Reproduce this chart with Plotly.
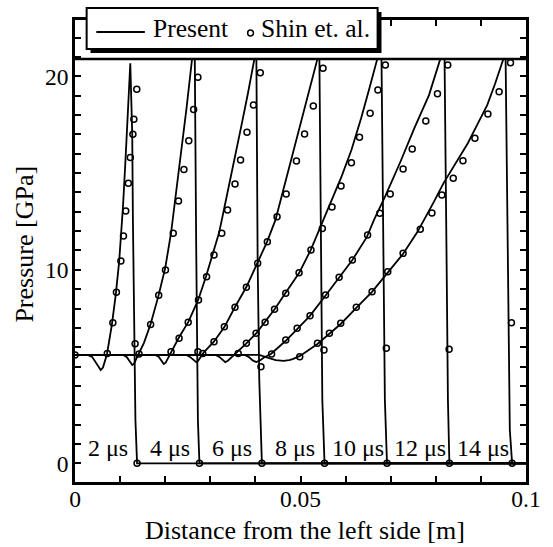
import plotly.graph_objects as go

# ---------------------------------------------------------------------------
# Pressure profiles along the bar (x in m, pressure in GPa)
# ---------------------------------------------------------------------------
times_us = [2, 4, 6, 8, 10, 12, 14]

# Present computation
present_x_2 = [0.0, 0.0028, 0.0038, 0.0048, 0.0057, 0.0062, 0.00665, 0.0071, 0.00817, 0.00903, 0.00978,
               0.01032, 0.01065, 0.0112, 0.01174, 0.01226, 0.01269, 0.01284, 0.0134, 0.01376, 0.1]
present_p_2 = [5.6, 5.6, 5.5, 5.12, 4.82, 4.95, 5.35, 5.65, 7.15, 8.7, 10.4,
               12.0, 13.3, 15.7, 18.0, 20.67, 17.0, 12.58, 2.24, 0.0, 0.0]

present_x_4 = [0.0, 0.01075, 0.0115, 0.01215, 0.01269, 0.0131, 0.01355, 0.01409, 0.01527, 0.01677,
               0.01849, 0.02, 0.02129, 0.02215, 0.02301, 0.02387, 0.02473, 0.02596, 0.02656,
               0.02688, 0.02725, 0.02759, 0.1]
present_p_4 = [5.6, 5.6, 5.48, 5.25, 5.08, 5.15, 5.42, 5.65, 6.21, 7.2,
               8.64, 10.09, 11.89, 13.44, 15.08, 16.73, 18.36, 20.9, 20.9,
               11.02, 2.24, 0.0, 0.0]

present_x_6 = [0.0, 0.01785, 0.0186, 0.0192, 0.01968, 0.0201, 0.02065, 0.02129, 0.02301, 0.02516,
               0.02731, 0.02903, 0.03054, 0.03194, 0.03301, 0.03404, 0.03548, 0.03692, 0.03834,
               0.03978, 0.04022, 0.0405, 0.04086, 0.04144, 0.1]
present_p_6 = [5.6, 5.6, 5.5, 5.26, 5.13, 5.2, 5.45, 5.77, 6.49, 7.32,
               8.44, 9.64, 10.77, 11.91, 13.09, 14.2, 15.83, 17.48, 19.11,
               20.9, 20.9, 10.39, 4.3, 0.0, 0.0]

present_x_8 = [0.0, 0.02473, 0.0255, 0.0263, 0.02688, 0.0273, 0.0279, 0.0286, 0.03075, 0.03312,
               0.03548, 0.038, 0.04043, 0.04258, 0.04445, 0.04667, 0.04903, 0.0514, 0.05376,
               0.05419, 0.05452, 0.05484, 0.05533, 0.1]
present_p_8 = [5.6, 5.6, 5.5, 5.32, 5.23, 5.3, 5.5, 5.75, 6.27, 7.04,
               8.08, 9.11, 10.35, 11.44, 12.58, 14.54, 16.63, 18.7, 20.9,
               20.9, 10.35, 3.27, 0.0, 0.0]

present_x_10 = [0.0, 0.03118, 0.032, 0.0328, 0.03333, 0.0339, 0.0348, 0.03591, 0.03806, 0.04022,
                0.04215, 0.0443, 0.04667, 0.04968, 0.05226, 0.05484, 0.05699, 0.05914, 0.06129,
                0.06344, 0.06516, 0.06703, 0.06796, 0.06839, 0.06871, 0.06918, 0.1]
present_p_10 = [5.6, 5.6, 5.5, 5.32, 5.23, 5.3, 5.5, 5.7, 6.21, 6.73,
                7.3, 7.97, 8.8, 9.83, 11.02, 12.47, 13.6, 14.84, 16.19,
                17.83, 19.28, 20.9, 20.9, 11.02, 3.27, 0.0, 0.0]

present_x_12 = [0.0, 0.03763, 0.0385, 0.0394, 0.0402, 0.041, 0.042, 0.04344, 0.04667, 0.04925,
                0.05204, 0.05548, 0.05849, 0.0615, 0.06473, 0.0663, 0.06882, 0.07204, 0.07527,
                0.07849, 0.081, 0.08194, 0.08237, 0.08269, 0.08301, 0.1]
present_p_12 = [5.6, 5.6, 5.5, 5.32, 5.23, 5.32, 5.48, 5.65, 6.32, 6.94,
                7.61, 8.65, 9.58, 10.51, 11.7, 12.58, 13.82, 15.52, 17.33,
                19.03, 20.9, 20.9, 11.02, 3.27, 0.0, 0.0]

present_x_14 = [0.0, 0.04086, 0.0425, 0.0445, 0.04624, 0.0475, 0.0484, 0.04989, 0.05376, 0.05634,
                0.05892, 0.06237, 0.06581, 0.06925, 0.07269, 0.07591, 0.07742, 0.07957, 0.08172,
                0.08452, 0.0871, 0.08925, 0.0914, 0.09312, 0.09499, 0.09548, 0.09591, 0.09641,
                0.09692, 0.1]
present_p_14 = [5.6, 5.6, 5.48, 5.33, 5.29, 5.33, 5.4, 5.55, 6.17, 6.68,
                7.2, 8.03, 8.85, 9.83, 10.81, 11.95, 12.58, 13.51, 14.48,
                15.52, 16.54, 17.53, 18.51, 19.6, 20.9, 20.9, 11.02, 1.73,
                0.0, 0.0]

# Shin et al. reference data
shin_x_2 = [0.0, 0.00716, 0.00839, 0.00918, 0.01017, 0.01075, 0.01125, 0.01183, 0.01226, 0.01284,
            0.01305, 0.0137, 0.01333, 0.01376]
shin_p_2 = [5.6, 5.68, 7.27, 8.84, 10.45, 11.75, 13.04, 14.47, 15.81, 17.0,
            17.78, 19.33, 6.18, 0.0]

shin_x_4 = [0.01419, 0.01677, 0.01856, 0.02006, 0.02178, 0.02295, 0.02415, 0.02523, 0.0263, 0.02725,
            0.02725, 0.02759]
shin_p_4 = [5.65, 7.18, 8.68, 9.99, 11.89, 13.56, 15.19, 16.67, 18.29, 19.95,
            5.77, 0.0]

shin_x_6 = [0.02129, 0.02308, 0.0251, 0.02738, 0.02918, 0.03082, 0.03254, 0.03383, 0.03548, 0.03671,
            0.03813, 0.03957, 0.04108, 0.04123, 0.04144]
shin_p_6 = [5.77, 6.46, 7.29, 8.44, 9.64, 10.77, 11.89, 13.09, 14.43, 15.67,
            17.11, 18.52, 20.19, 4.99, 0.0]

shin_x_8 = [0.02832, 0.03082, 0.03312, 0.03548, 0.038, 0.0405, 0.04265, 0.0448, 0.04682, 0.0491,
            0.0509, 0.05284, 0.05499, 0.0552, 0.05533]
shin_p_8 = [5.68, 6.28, 7.06, 8.06, 9.1, 10.34, 11.45, 12.74, 13.92, 15.62,
            17.02, 18.47, 20.41, 5.86, 0.0]

shin_x_10 = [0.03619, 0.038, 0.04015, 0.04215, 0.04424, 0.04673, 0.04968, 0.05232, 0.05484, 0.05699,
             0.05899, 0.06129, 0.06308, 0.06544, 0.06716, 0.06882, 0.06903, 0.06918]
shin_p_10 = [5.68, 6.2, 6.72, 7.29, 7.96, 8.79, 9.85, 11.02, 12.14, 13.25,
             14.33, 15.53, 16.85, 18.09, 19.29, 20.58, 5.94, 0.0]

shin_x_12 = [0.04359, 0.04673, 0.04925, 0.05211, 0.05555, 0.05856, 0.0615, 0.06488, 0.06759, 0.06989,
             0.07275, 0.07477, 0.07778, 0.08037, 0.08265, 0.08295, 0.08301]
shin_p_12 = [5.65, 6.37, 6.98, 7.63, 8.7, 9.61, 10.51, 11.8, 12.92, 13.92,
             15.21, 16.24, 17.69, 19.1, 20.58, 5.89, 0.0]

shin_x_14 = [0.04983, 0.05376, 0.05641, 0.05892, 0.06237, 0.06587, 0.06935, 0.07275, 0.07656, 0.07914,
             0.08135, 0.08387, 0.08602, 0.08867, 0.09155, 0.09404, 0.09656, 0.09677, 0.09692]
shin_p_14 = [5.51, 6.2, 6.72, 7.24, 8.06, 8.87, 9.9, 10.85, 12.09, 12.94,
             13.87, 14.73, 15.64, 16.8, 18.05, 19.2, 20.7, 7.27, 0.0]

# Upper pressure bound of the plotted window
p_top = 20.9

# Axis ticks
x_tick_vals = [i / 100 for i in range(11)]
x_tick_text = ["0", "", "", "", "", "0.05", "", "", "", "", "0.1"]
y_tick_vals = list(range(23))
y_tick_text = [str(v) if v % 10 == 0 else "" for v in y_tick_vals]

present_x = [present_x_2, present_x_4, present_x_6, present_x_8, present_x_10, present_x_12, present_x_14]
present_p = [present_p_2, present_p_4, present_p_6, present_p_8, present_p_10, present_p_12, present_p_14]
shin_x = [shin_x_2, shin_x_4, shin_x_6, shin_x_8, shin_x_10, shin_x_12, shin_x_14]
shin_p = [shin_p_2, shin_p_4, shin_p_6, shin_p_8, shin_p_10, shin_p_12, shin_p_14]

FONT = "Liberation Serif, Times New Roman, serif"
W, H = 553, 547
ML, MR, MT, MB = 75, 13, 20, 65
PW, PH = W - ML - MR, H - MT - MB


def px(x):
    """page pixel column -> paper x"""
    return (x - ML) / PW


def py(y):
    """page pixel row -> paper y"""
    return (H - MB - y) / PH


fig = go.Figure()

for xs, ps in zip(shin_x, shin_p):
    fig.add_trace(go.Scatter(
        x=xs, y=ps, mode="markers", showlegend=False,
        marker=dict(symbol="circle-open", size=6, color="black", line=dict(width=1.5)),
    ))

for xs, ps in zip(present_x, present_p):
    fig.add_trace(go.Scatter(
        x=xs, y=ps, mode="lines", showlegend=False,
        line=dict(color="black", width=1.8),
    ))

# time labels between successive shock fronts
annotations = []
prev_front = 0.0
for t, xs in zip(times_us, present_x):
    front = xs[-2]
    annotations.append(dict(
        x=(prev_front + front) / 2 + 0.0004, y=0.8, xref="x", yref="y",
        text=f"{t} μs", showarrow=False, xanchor="center", yanchor="middle",
        font=dict(family=FONT, size=24, color="black"),
    ))
    prev_front = front

# axis titles
annotations.append(dict(
    x=px(312), y=py(530), xref="paper", yref="paper", text="Distance from the left side [m]",
    showarrow=False, xanchor="center", yanchor="middle",
    font=dict(family=FONT, size=26, color="black"),
))
annotations.append(dict(
    x=px(22), y=py(244), xref="paper", yref="paper", text="Pressure [GPa]",
    showarrow=False, xanchor="center", yanchor="middle", textangle=-90,
    font=dict(family=FONT, size=26, color="black"),
))

# legend texts
annotations.append(dict(
    x=px(153), y=py(29), xref="paper", yref="paper", text="Present",
    showarrow=False, xanchor="left", yanchor="middle",
    font=dict(family=FONT, size=25.5, color="black"),
))
annotations.append(dict(
    x=px(265), y=py(29), xref="paper", yref="paper", text="Shin et. al.",
    showarrow=False, xanchor="left", yanchor="middle",
    font=dict(family=FONT, size=25.5, color="black"),
))

shapes = [
    # upper bound line of the pressure window
    dict(type="line", xref="paper", yref="y", x0=0, x1=1, y0=p_top, y1=p_top,
         line=dict(color="black", width=2.5), layer="above"),
    # legend frame with drop shadow
    dict(type="rect", xref="paper", yref="paper", x0=px(91), x1=px(391), y0=py(53), y1=py(12),
         fillcolor="black", line=dict(color="black", width=0), layer="above"),
    dict(type="rect", xref="paper", yref="paper", x0=px(87), x1=px(387), y0=py(49), y1=py(8),
         fillcolor="white", line=dict(color="black", width=2), layer="above"),
    # legend samples
    dict(type="line", xref="paper", yref="paper", x0=px(97), x1=px(147), y0=py(32), y1=py(32),
         line=dict(color="black", width=1.8), layer="above"),
    dict(type="circle", xref="paper", yref="paper", x0=px(253), x1=px(259), y0=py(36), y1=py(30),
         line=dict(color="black", width=1.5), fillcolor="white", layer="above"),
]

axis_common = dict(
    showline=True, linecolor="black", linewidth=2.5, mirror="ticks",
    ticks="inside", ticklen=6, tickwidth=1.5, tickcolor="black",
    showgrid=False, zeroline=False,
    tickfont=dict(family=FONT, size=23.5, color="black"),
)

fig.update_layout(
    width=W, height=H,
    margin=dict(l=ML, r=MR, t=MT, b=MB),
    paper_bgcolor="white", plot_bgcolor="white",
    font=dict(family=FONT, color="black"),
    xaxis=dict(range=[0, 0.1], tickmode="array", tickvals=x_tick_vals, ticktext=x_tick_text,
               ticklabelstandoff=-6, **axis_common),
    yaxis=dict(range=[-0.966, 22.91], tickmode="array", tickvals=y_tick_vals, ticktext=y_tick_text,
               ticklabelstandoff=-1, **axis_common),
    annotations=annotations,
    shapes=shapes,
    showlegend=False,
)

fig.write_html("out.html")
